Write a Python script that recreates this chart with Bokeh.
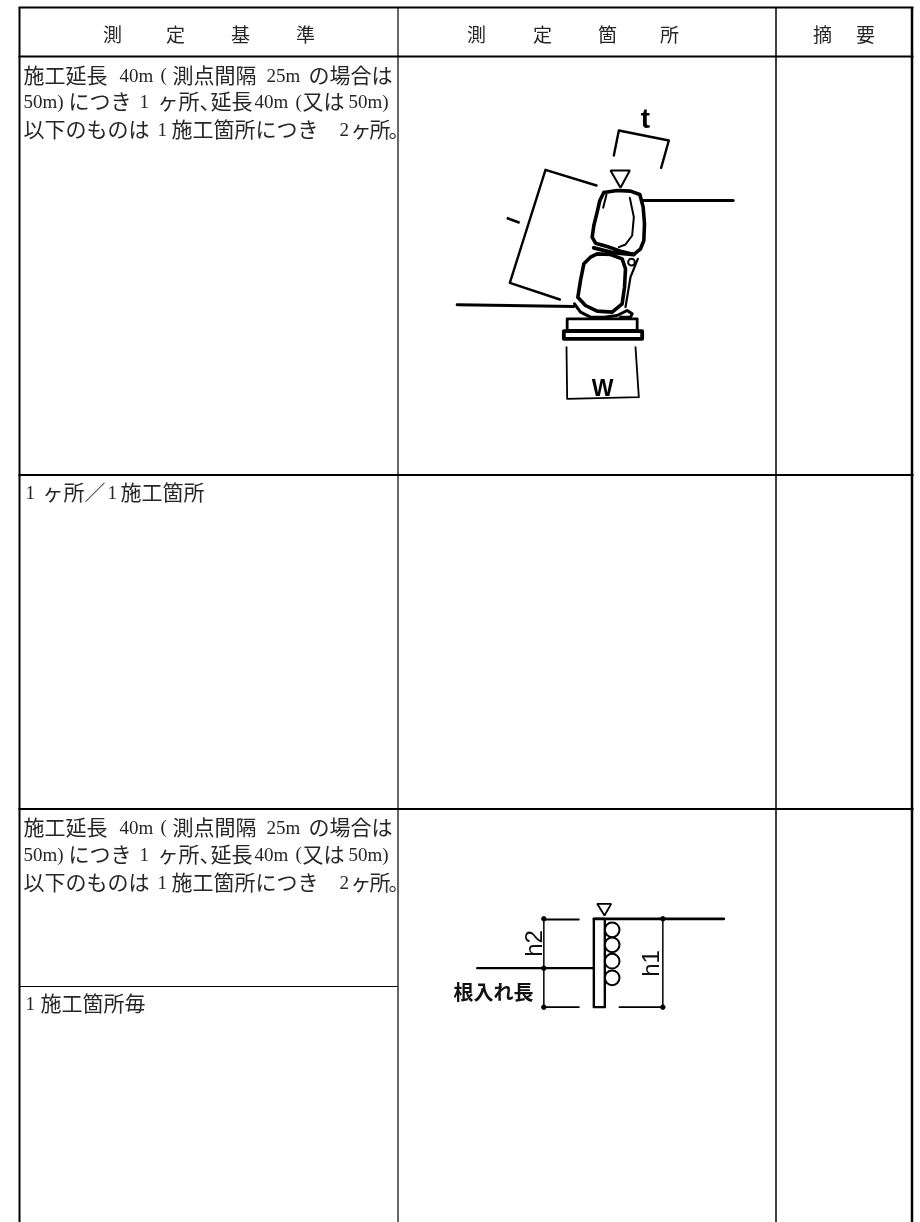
import math
from bokeh.plotting import figure
from bokeh.embed import file_html
from bokeh.resources import INLINE
from bokeh.core.properties import value

# ---- table rules: (x0, y0, x1, y1, width)
table_rules = [
    (19, 1222, 19, 7, 2), (397.5, 7, 397.5, 1222, 1.2), (775.5, 7, 775.5, 1222, 1.5), (911.5, 7, 911.5, 1222, 2.5),
    (18, 7, 913, 7, 2), (18, 56, 913, 56, 2), (18, 474.5, 913, 474.5, 2), (18, 808.5, 913, 808.5, 2),
    (19, 986, 397, 986, 1.2),
]

# ---- header characters
header_chars = ["測", "定", "基", "準", "測", "定", "箇", "所", "摘", "要"]
header_x = [112, 175, 240, 305, 476, 542, 607, 669, 822, 865]
header_y = [33] * 10

# ---- body text lines
l1, l2, l3 = [73, 99.5, 127], [825, 852, 880], [490, 1001]
cjk_text = []
latin_text = []


def block(y1, y2, y3):
    return (
        [(23, y1, "施工延長"), (172, y1, "測点間隔"), (308, y1, "の場合は"),
         (68, y2, "につき"), (157, y2, "ヶ所、"), (210, y2, "延長"), (302, y2, "又は"),
         (23, y3, "以下のものは"), (171, y3, "施工箇所につき"), (350, y3, "ヶ"), (369, y3, "所"), (388, y3, "。")],
        [(119, y1 + 1.5, "40m"), (160, y1 + 1, "("), (266, y1 + 1.5, "25m"),
         (23, y2 + 1.5, "50m)"), (139, y2 + 1.5, "1"), (254, y2 + 1.5, "40m"), (295, y2 + 1, "("), (348, y2 + 1.5, "50m)"),
         (157, y3 + 1.5, "1"), (339, y3 + 1.5, "2")],
    )


for a, b, c in (l1, l2):
    cj, la = block(a, b, c)
    cjk_text += cj
    latin_text += la
cjk_text += [(42, l3[0], "ヶ所／"), (120, l3[0], "施工箇所"), (40, l3[1], "施工箇所毎")]
latin_text += [(25, l3[0] + 1.5, "1"), (107, l3[0] + 1.5, "1"), (25, l3[1] + 1.5, "1")]

# ---- sketch 1 paths, in crop units (x = 430 + u/3, y = 120 + v/3): (width, [(u, v), ...])
wall_paths = [
    (2.4, [(550, 105), (565, 30), (715, 60), (692, 142)]),
    (2.4, [(498, 195), (345, 148), (238, 487), (388, 537)]),
    (3.0, [(635, 240), (908, 240)]),
    (3.0, [(80, 553), (430, 558)]),
    (3.6, [(520, 216), (560, 210), (600, 212), (628, 222), (638, 260), (642, 310), (640, 360), (630, 385), (610, 402),
           (570, 392), (530, 378), (495, 368), (485, 350), (490, 315), (500, 275), (508, 240), (520, 216)]),
    (2.0, [(598, 232), (610, 290), (605, 345), (585, 372), (565, 380)]),
    (2.0, [(528, 222), (518, 262)]),
    (4.0, [(490, 382), (540, 395), (610, 402)]),
    (3.6, [(500, 400), (540, 402), (575, 415), (585, 445), (582, 500), (575, 550), (545, 575), (500, 572), (465, 555),
           (442, 530), (450, 480), (460, 430), (480, 410), (500, 400)]),
    (2.2, [(622, 415), (600, 470), (585, 560)]),
    (3.0, [(432, 550), (450, 575), (480, 590), (520, 590), (560, 585), (590, 570), (605, 580), (600, 590), (570, 590)]),
    (2.8, [(410, 595), (620, 595), (620, 630), (410, 630), (410, 595)]),
    (3.8, [(400, 632), (635, 632), (635, 655), (400, 655), (400, 632)]),
    (1.8, [(408, 680), (410, 835), (625, 830), (615, 680)]),
]
wall_triangle = ([540, 598, 570], [150, 150, 202])
wall_stone_u, wall_stone_v, wall_stone_r = [603], [425], [10]

# ---- sketch 2 paths, in crop units (x = 430 + u/3, y = 890 + v/3)
pile_paths = [
    (2.6, [(490, 85), (880, 85)]),
    (2.2, [(140, 233), (490, 233)]),
    (2.4, [(490, 85), (523, 85), (523, 350), (490, 350), (490, 85)]),
    (1.5, [(340, 85), (340, 350)]),
    (1.8, [(340, 87), (445, 87)]),
    (1.8, [(340, 350), (445, 350)]),
    (1.5, [(697, 85), (697, 350)]),
    (1.8, [(567, 350), (697, 350)]),
]
pile_circles_u, pile_circles_v, pile_circles_r = [545, 545, 545, 545], [118, 163, 212, 262], [22, 22, 22, 22]
pile_triangle = ([500, 542, 522], [40, 40, 75])
pile_dots_u, pile_dots_v = [340, 340, 340, 697, 697], [85, 233, 350, 85, 350]


def w1(pts):
    return [430 + u / 3 for u, v in pts], [120 + v / 3 for u, v in pts]


def w2(pts):
    return [430 + u / 3 for u, v in pts], [890 + v / 3 for u, v in pts]


p = figure(width=920, height=1222, x_range=(0, 920), y_range=(1222, 0), toolbar_location=None,
           output_backend="svg", min_border=0, x_axis_location=None, y_axis_location=None,
           outline_line_color=None, background_fill_color="white", border_fill_color="white",
           styles={"position": "fixed", "left": "0", "top": "0"})
p.grid.visible = False

for x0, y0, x1, y1, w in table_rules:
    p.line([x0, x1], [y0, y1], line_color="black", line_width=w)

CJK = value("Noto Sans CJK JP")
SERIF = value("Liberation Serif")
INK = "#262626"

p.text(header_x, header_y, text=header_chars, text_font=CJK, text_font_size="19px", text_color=INK,
       text_align="center", text_baseline="middle")

p.text([t[0] for t in cjk_text], [t[1] for t in cjk_text], text=[t[2] for t in cjk_text], text_font=CJK,
       text_font_size="21px", text_color=INK, text_align="left", text_baseline="middle")
p.text([t[0] for t in latin_text], [t[1] for t in latin_text], text=[t[2] for t in latin_text], text_font=SERIF,
       text_font_size="19px", text_color=INK, text_align="left", text_baseline="middle")

# sketch 1
for w, pts in wall_paths:
    xs, ys = w1(pts)
    p.line(xs, ys, line_color="black", line_width=w, line_join="round", line_cap="round")
xs, ys = w1(list(zip(*wall_triangle)))
p.patch(xs, ys, fill_color="white", line_color="black", line_width=2)
xs, ys = w1(list(zip(wall_stone_u, wall_stone_v)))
p.circle(xs, ys, radius=[r / 3 for r in wall_stone_r], fill_color="white", line_color="black", line_width=2)
p.text([602], [387], text=["W"], text_font=value("Liberation Sans"), text_font_style="bold", text_font_size="23px",
       text_color="black", text_align="center", text_baseline="middle")
p.text([645], [118], text=["t"], text_font=value("Liberation Sans"), text_font_style="bold", text_font_size="28px",
       text_color="black", text_align="center", text_baseline="middle")
p.text([513], [220], text=["l"], text_font=value("Liberation Sans"), text_font_style="bold", text_font_size="19px",
       angle=[math.radians(70)], text_color="black", text_align="center", text_baseline="middle")

# sketch 2
for w, pts in pile_paths:
    xs, ys = w2(pts)
    p.line(xs, ys, line_color="black", line_width=w, line_join="round", line_cap="round")
xs, ys = w2(list(zip(pile_circles_u, pile_circles_v)))
p.circle(xs, ys, radius=[r / 3 for r in pile_circles_r], fill_color="white", line_color="black", line_width=2)
xs, ys = w2(list(zip(*pile_triangle)))
p.patch(xs, ys, fill_color="white", line_color="black", line_width=1.8)
xs, ys = w2(list(zip(pile_dots_u, pile_dots_v)))
p.scatter(xs, ys, size=4.5, marker="circle", fill_color="black", line_color="black")
p.text([533, 650], [943, 963], text=["h2", "h1"], text_font=value("Liberation Sans"), text_font_size="24px",
       angle=[math.pi / 2, math.pi / 2], text_color="#111111", text_align="center", text_baseline="middle")
p.text([493], [991], text=["根入れ長"], text_font=CJK, text_font_style="bold", text_font_size="20px", text_color="#111111",
       text_align="center", text_baseline="middle")

open("out.html", "w").write(file_html(p, INLINE))
